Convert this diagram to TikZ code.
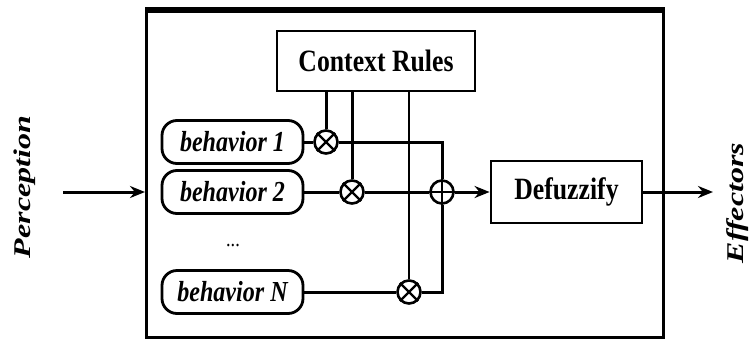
\documentclass[tikz,border=0pt]{standalone}
\usepackage{fontspec}
\setmainfont{Liberation Serif}
\usetikzlibrary{arrows.meta}
\newcommand{\sqz}[1]{\scalebox{0.83}[1]{#1}}
\newcommand{\rsqz}[1]{\scalebox{1}[0.75]{#1}}
\begin{document}
\begin{tikzpicture}[x=1pt,y=-1pt,
  rbox/.style={draw, line width=1.5pt, inner sep=0pt, font=\bfseries\fontsize{31}{32}\selectfont},
  beh/.style={draw, line width=2.8pt, rounded corners=15pt, minimum width=141pt, minimum height=43pt, inner sep=0pt, font=\bfseries\itshape\fontsize{29}{30}\selectfont},
  mult/.style={draw, circle, line width=2.6pt, minimum size=23pt, inner sep=0pt},
  wire/.style={line width=3pt},
  thinwire/.style={line width=1.2pt},
  arr/.style={-{Stealth[length=15pt,width=12pt]}, line width=3pt},
  side/.style={rotate=90, font=\bfseries\itshape\fontsize{32}{33}\selectfont}
]
\useasboundingbox (0,0) rectangle (753,341);
% outer frame
\draw[line width=3pt] (146.5,10) rectangle (663.5,337);
\draw[line width=6pt] (145,10) -- (665,10);
% boxes
\node[rbox, minimum width=198pt, minimum height=60pt] (ctx) at (376,61) {\sqz{Context Rules}};
\node[rbox, minimum width=151pt, minimum height=62pt, line width=2.8pt] (def) at (566.5,192) {\sqz{Defuzzify}};
\node[beh] (b1) at (232.5,142) {\sqz{behavior 1}};
\node[beh] (b2) at (232.5,192) {\sqz{behavior 2}};
\node[beh] (bN) at (232.5,292) {\sqz{behavior N}};
\node[font=\fontsize{22}{22}\selectfont] (dots) at (233,246) {\sqz{...}};
% multipliers and sum
\node[mult] (m1) at (326,142) {};
\node[mult] (m2) at (352,192) {};
\node[mult] (mN) at (409,292) {};
\node[mult] (sum) at (442,192) {};
\foreach \m in {m1,m2,mN}{
  \draw[line width=2.2pt] (\m.north east) -- (\m.south west);
  \draw[line width=2.2pt] (\m.north west) -- (\m.south east);
}
\draw[line width=2.2pt] (sum.north) -- (sum.south);
\draw[line width=2.2pt] (sum.west) -- (sum.east);
% context lines
\draw[wire] (ctx.south -| m1.north) -- (m1.north);
\draw[wire] (ctx.south -| m2.north) -- (m2.north);
\draw[thinwire] (ctx.south -| mN.north) -- (mN.north);
% behavior wires
\draw[wire] (b1.east) -- (m1.west);
\draw[wire] (b2.east) -- (m2.west);
\draw[wire] (bN.east) -- (mN.west);
\draw[wire] (m1.east) -| (sum.north);
\draw[wire] (m2.east) -- (sum.west);
\draw[wire] (mN.east) -| (sum.south);
\draw[arr] (sum.east) -- (def.west);
% outside
\coordinate (pstart) at (63,192);
\coordinate (pin) at (145,192);
\coordinate (eout) at (713,192);
\draw[arr] (pstart) -- (pin);
\draw[arr] (def.east) -- (eout);
\node[side] (perc) at (25,187) {\rsqz{Perception}};
\node[side] (eff) at (738,203) {\rsqz{Effectors}};
\end{tikzpicture}
\end{document}
